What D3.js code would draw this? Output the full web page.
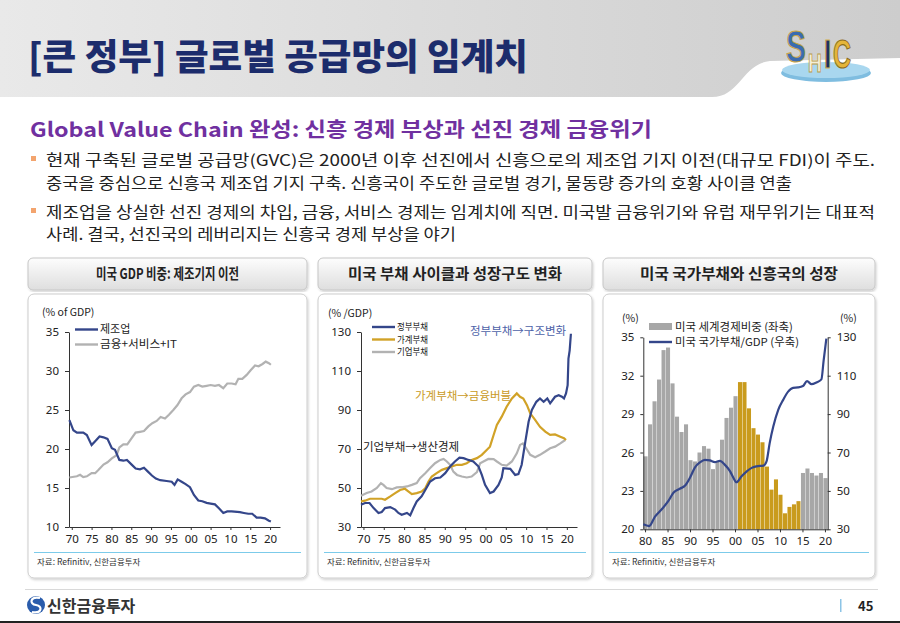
<!DOCTYPE html>
<html><head><meta charset="utf-8">
<script src="https://cdn.jsdelivr.net/npm/d3@7"></script>
<style>
body{margin:0;background:#fff;overflow:hidden;}
svg{display:block;font-family:'Noto Sans CJK KR','Noto Sans',sans-serif;}
</style></head>
<body>
<script>
// ---------- DATA ----------
const titleText = "[큰 정부] 글로벌 공급망의 임계치";
const subtitleText = "Global Value Chain 완성: 신흥 경제 부상과 선진 경제 금융위기";
const bulletLines = [
  "현재 구축된 글로벌 공급망(GVC)은 2000년 이후 선진에서 신흥으로의 제조업 기지 이전(대규모 FDI)이 주도.",
  "중국을 중심으로 신흥국 제조업 기지 구축. 신흥국이 주도한 글로벌 경기, 물동량 증가의 호황 사이클 연출",
  "제조업을 상실한 선진 경제의 차입, 금융, 서비스 경제는 임계치에 직면. 미국발 금융위기와 유럽 재무위기는 대표적",
  "사례. 결국, 선진국의 레버리지는 신흥국 경제 부상을 야기"
];
const panelTitles = ["미국 GDP 비중: 제조기지 이전", "미국 부채 사이클과 성장구도 변화", "미국 국가부채와 신흥국의 성장"];
const sourceText = "자료: Refinitiv, 신한금융투자";
const logoLetters = ["S", "H", "I", "C"];

// Chart 1: US GDP share (% of GDP)
const c1Series = ["제조업", "금융+서비스+IT"];
const manufYears = [1969.4,1970.4,1971.3,1972.9,1973.8,1975.0,1975.9,1977.0,1978.0,1979.0,1980.1,1980.9,1982.0,1983.0,1983.9,1985.1,1986.1,1987.2,1988.2,1989.2,1990.2,1991.2,1992.3,1993.9,1995.2,1995.9,1996.7,1997.7,1998.7,1999.8,2000.8,2001.9,2002.9,2004.0,2005.0,2006.1,2007.1,2008.2,2009.2,2010.3,2012.4,2013.4,2014.5,2015.5,2016.6,2017.6,2018.7,2019.7,2020.2];
const manufValues = [23.7,22.4,22.1,22.1,21.8,20.5,21.0,21.6,21.5,21.3,20.1,19.9,18.6,18.5,18.6,18.0,17.5,17.4,17.6,17.1,16.6,16.2,16.0,15.9,15.8,15.4,16.1,15.8,15.5,15.1,14.1,13.4,13.3,13.1,13.0,12.9,12.4,11.8,12.0,12.0,11.9,11.8,11.7,11.7,11.2,11.2,11.1,10.8,10.7];
const servYears = [1969.4,1971.3,1972.1,1972.9,1973.8,1975.0,1975.9,1976.7,1978.0,1979.0,1980.1,1981.3,1982.0,1983.0,1984.0,1985.1,1986.1,1987.2,1988.2,1989.3,1990.3,1991.4,1992.4,1993.5,1994.5,1995.6,1996.6,1997.7,1998.7,1999.8,2000.8,2001.9,2002.9,2004.0,2005.0,2006.1,2007.1,2008.2,2009.2,2010.3,2011.3,2012.0,2013.0,2014.1,2015.1,2016.2,2017.1,2018.1,2018.9,2019.7,2020.2];
const servValues = [16.35,16.5,16.7,16.4,16.5,16.9,16.9,17.3,18.0,18.3,18.8,19.2,20.2,20.6,20.6,21.4,22.1,22.2,22.3,22.9,23.3,23.6,24.1,23.9,24.4,25.0,25.6,26.5,27.0,27.3,28.0,28.2,28.0,28.1,28.2,28.1,28.2,27.8,28.4,28.4,28.3,29.0,29.0,29.5,30.1,30.7,30.6,30.9,31.2,31.0,30.8];
const c1Ticks = [10,15,20,25,30,35];
const c1YearTicks = [1970,1975,1980,1985,1990,1995,2000,2005,2010,2015,2020];

// Chart 2: US debt (% /GDP)
const c2Series = ["정부부채", "가계부채", "기업부채"];
const govYears = [1969.4,1970.4,1971.5,1972.5,1973.7,1974.5,1975.3,1976.6,1977.8,1978.6,1979.4,1980.7,1981.5,1982.3,1983.1,1984.3,1985.2,1986.4,1987.6,1988.9,1990.1,1991.3,1992.5,1993.6,1994.6,1995.8,1997.0,1998.3,1999.1,1999.9,2001.1,2002.0,2003.2,2004.0,2004.4,2006.1,2007.3,2008.1,2008.9,2009.8,2010.6,2011.4,2012.5,2013.4,2014.3,2015.2,2015.9,2017.1,2018.0,2018.8,2019.3,2019.8,2020.2,2020.4,2020.7,2021.0];
const govValues = [41.4,42.3,42.3,39.7,37.2,37.7,39.7,40.2,38.9,37.2,36.3,37.2,36.0,39.7,43.1,45.7,49.0,53.3,55.0,55.4,57.6,61.0,63.6,65.6,65.3,64.4,63.6,61.0,56.7,51.6,47.4,48.2,51.6,55.4,60.2,59.8,56.7,57.1,61.9,73.8,84.0,90.0,94.2,95.9,94.2,95.9,93.4,96.8,97.6,96.8,95.9,98.5,102.7,116.4,120.6,129.1];
const hhYears = [1969.4,1970.4,1971.6,1973.3,1974.5,1975.3,1976.6,1977.8,1979.0,1980.2,1981.1,1981.9,1983.1,1984.3,1985.2,1986.0,1986.8,1988.0,1989.3,1990.5,1991.7,1993.0,1994.2,1995.4,1996.6,1997.9,1999.1,2000.3,2001.1,2002.0,2002.8,2004.0,2005.2,2006.5,2007.7,2008.5,2009.3,2010.2,2011.0,2012.2,2013.4,2014.7,2015.9,2017.1,2018.4,2019.3,2019.8];
const hhValues = [43.1,43.5,44.5,44.5,44.5,44.0,45.7,47.4,49.0,49.6,48.2,46.9,47.4,48.2,49.9,53.3,55.9,57.6,59.3,60.2,61.0,61.9,61.9,62.7,64.4,65.3,67.0,69.5,71.2,77.2,82.3,86.6,91.7,95.9,98.5,96.8,95.9,92.5,88.3,84.9,81.4,78.9,77.2,77.5,76.3,75.5,74.6];
const corpYears = [1969.4,1970.8,1972.0,1973.3,1974.3,1974.9,1975.7,1977.0,1978.2,1979.4,1980.7,1981.9,1983.1,1983.9,1985.2,1986.4,1987.6,1988.9,1989.7,1990.5,1991.3,1992.1,1993.0,1994.2,1995.4,1996.6,1997.9,1998.7,1999.5,2000.7,2002.0,2002.8,2004.0,2005.2,2006.5,2007.7,2008.5,2009.2,2010.0,2011.0,2012.2,2013.4,2014.7,2015.9,2017.1,2018.4,2019.6];
const corpValues = [46.0,47.4,48.2,50.0,52.5,51.6,50.0,49.4,50.3,50.4,50.8,51.6,52.5,55.0,57.6,60.2,62.7,64.4,64.9,63.6,61.9,58.4,56.7,55.9,55.4,55.9,58.1,62.7,63.6,64.9,64.8,63.6,61.9,61.5,63.6,67.8,72.1,72.9,70.4,67.0,65.8,67.0,68.7,70.4,71.2,72.9,74.6];
const c2Ticks = [30,50,70,90,110,130];
const c2Notes = ["정부부채→구조변화", "가계부채→금융버블", "기업부채→생산경제"];

// Chart 3: US share of world economy (left) & federal debt/GDP (right)
const c3Series = ["미국 세계경제비중 (좌축)", "미국 국가부채/GDP (우축)"];
const shareYears = d3.range(1980, 2021);
const shareValues = [25.7,28.2,30.0,31.7,34.0,34.2,31.4,28.8,27.6,28.2,
  25.4,25.3,26.0,26.5,26.3,24.7,25.3,27.0,28.7,29.5,
  30.4,31.5,31.5,29.45,27.9,27.4,26.8,24.9,23.1,23.9,
  22.7,21.25,21.75,21.95,22.2,24.4,24.75,24.4,24.2,24.4,
  24.0];
const highlightYears = d3.range(2001, 2015);
const debtYears = [1979.5,1980.8,1982.1,1983.6,1985.0,1986.2,1987.6,1988.8,1989.9,1991.0,1992.1,1993.2,1994.3,1995.4,1996.5,1997.6,1998.8,1999.5,2000.2,2001.35,2002.5,2003.6,2004.7,2006.2,2006.9,2007.6,2008.4,2009.5,2010.6,2011.7,2012.8,2013.9,2015.0,2015.9,2016.9,2018.0,2019.1,2019.6,2020.2];
const debtValues = [32.6,31.7,36.6,40.4,44.5,49.0,51.1,52.8,57.0,62.3,64.9,66.2,65.9,65.0,65.6,63.7,60.2,57.0,54.5,57.6,60.2,62.0,62.8,63.2,65.4,74.9,83.5,92.2,97.4,101.7,103.7,103.9,104.6,107.2,105.6,106.5,108.1,118.0,129.3];
const c3LeftTicks = [20,23,26,29,32,35];
const c3RightTicks = [30,50,70,90,110,130];
const c3YearTicks = [1980,1985,1990,1995,2000,2005,2010,2015,2020];

// ---------- DRAW ----------
const NAVY = "#34468a", GRAYL = "#b2b2b2", GOLD = "#d1a227";
const yy = d => String(d % 100).padStart(2, "0");
const svg = d3.select("body").append("svg").attr("width", 900).attr("height", 623);
const defs = svg.append("defs");
const hg = defs.append("linearGradient").attr("id", "hg").attr("x1", 0).attr("x2", 1).attr("y1", 0).attr("y2", 0);
hg.append("stop").attr("offset", 0).attr("stop-color", "#e9e9e9");
hg.append("stop").attr("offset", 1).attr("stop-color", "#cdcdcd");
const bg = defs.append("linearGradient").attr("id", "bg").attr("x1", 0).attr("x2", 0).attr("y1", 0).attr("y2", 1);
bg.append("stop").attr("offset", 0).attr("stop-color", "#fdfdfd");
bg.append("stop").attr("offset", 1).attr("stop-color", "#dedede");
const sh = defs.append("filter").attr("id", "sh").attr("x", -0.05).attr("y", -0.05).attr("width", 1.1).attr("height", 1.1);
sh.append("feDropShadow").attr("dx", 1).attr("dy", 1.5).attr("stdDeviation", 1.2).attr("flood-color", "#000").attr("flood-opacity", 0.18);

// header
svg.append("rect").attr("x", 0).attr("y", 0).attr("width", 900).attr("height", 97).attr("fill", "url(#hg)");
svg.append("path").attr("d", "M712,97 C740,97 742,64 770,61 L900,58 L900,97 Z").attr("fill", "#fff");
svg.append("text").attr("x", 28).attr("y", 70).attr("font-size", 36).attr("font-weight", 900)
  .attr("fill", "#1c2c6c").attr("textLength", 500).attr("lengthAdjust", "spacingAndGlyphs").text(titleText);
// SHIC logo: letters side by side, stretched vertically
svg.append("ellipse").attr("cx", 826).attr("cy", 73).attr("rx", 45).attr("ry", 9).attr("fill", "#7fbde0");
svg.append("ellipse").attr("cx", 826).attr("cy", 70).attr("rx", 44).attr("ry", 8).attr("fill", "#a9d7ef");
const logoStyle = [
  {x: 786, y: 62, fs: 30, k: 1.5, fill: "#3b6cb0", stroke: "#c9a545"},
  {x: 808, y: 72, fs: 19, k: 1.4, fill: "#f4efda", stroke: "#b79a4a"},
  {x: 824, y: 68, fs: 27, k: 1.5, fill: "#1f3360", stroke: "#d4b050"},
  {x: 833, y: 68, fs: 25, k: 1.6, fill: "#e5b53a", stroke: "#8d6d1c"}
];
logoLetters.forEach((l, i) => {
  const s = logoStyle[i];
  svg.append("text").attr("transform", `translate(${s.x},${s.y}) scale(1,${s.k})`)
    .attr("font-size", s.fs).attr("font-weight", 700)
    .attr("font-family", "'Liberation Sans','DejaVu Sans',sans-serif")
    .attr("fill", s.fill).attr("stroke", s.stroke).attr("stroke-width", 0.7).text(l);
});

// subtitle + bullets
svg.append("text").attr("x", 30).attr("y", 137).attr("font-size", 20).attr("font-weight", 700)
  .attr("fill", "#7030a0").attr("textLength", 622).attr("lengthAdjust", "spacingAndGlyphs").text(subtitleText);
const lineY = [166, 189, 218, 240];
const lineW = [829, 746, 829, 410];
bulletLines.forEach((t, i) => {
  svg.append("text").attr("x", 46).attr("y", lineY[i]).attr("font-size", 15.5).attr("fill", "#222")
    .attr("textLength", lineW[i]).attr("lengthAdjust", "spacingAndGlyphs").text(t);
});
[156, 208].forEach(y => svg.append("rect").attr("x", 31).attr("y", y).attr("width", 5).attr("height", 5).attr("fill", "#f3a46e"));

// panels
const panels = [{x: 28, w: 279}, {x: 318, w: 274}, {x: 603, w: 272}];
const titleW = [143, 214, 198];
panels.forEach((p, i) => {
  svg.append("rect").attr("x", p.x).attr("y", 258).attr("width", p.w).attr("height", 32).attr("rx", 5)
    .attr("fill", "url(#bg)").attr("stroke", "#c6c6c6").attr("filter", "url(#sh)");
  svg.append("text").attr("x", p.x + p.w / 2).attr("y", 279).attr("text-anchor", "middle")
    .attr("font-size", 15).attr("font-weight", 700).attr("fill", "#222")
    .attr("textLength", titleW[i]).attr("lengthAdjust", "spacingAndGlyphs").text(panelTitles[i]);
  svg.append("rect").attr("x", p.x).attr("y", 294).attr("width", p.w).attr("height", 284).attr("rx", 6)
    .attr("fill", "#fff").attr("stroke", "#cdcdcd").attr("filter", "url(#sh)");
  svg.append("line").attr("x1", p.x + 6).attr("x2", p.x + p.w - 6).attr("y1", 552.5).attr("y2", 552.5)
    .attr("stroke", "#7ccbea").attr("stroke-width", 1);
  svg.append("text").attr("x", p.x + 9).attr("y", 565).attr("font-size", 8.5).attr("fill", "#333").text(sourceText);
});

function styleAxis(g, fs) {
  g.selectAll("text").attr("font-size", fs).attr("fill", "#222").attr("font-family", "'Noto Sans','Noto Sans CJK KR',sans-serif");
  g.selectAll("path,line").attr("stroke", "#333");
}
function legendLine(x, y, color, label, fs, tl) {
  svg.append("line").attr("x1", x).attr("x2", x + 23).attr("y1", y).attr("y2", y).attr("stroke", color).attr("stroke-width", 2.4);
  const t = svg.append("text").attr("x", x + 25).attr("y", y + fs * 0.36).attr("font-size", fs).attr("fill", "#222").text(label);
  if (tl) t.attr("textLength", tl).attr("lengthAdjust", "spacingAndGlyphs");
}

// ---- Chart 1
const x1 = d3.scaleLinear().domain([1969.3, 2022.5]).range([69, 280]);
const y1 = d3.scaleLinear().domain([10, 35]).range([527, 332]);
svg.append("g").attr("transform", "translate(69,0)")
  .call(d3.axisLeft(y1).tickValues(c1Ticks).tickSize(4).tickPadding(6).tickSizeOuter(0)).call(g => styleAxis(g, 11.5));
svg.append("g").attr("transform", "translate(0,527)")
  .call(d3.axisBottom(x1).tickValues(c1YearTicks).tickFormat(yy).tickSize(3).tickPadding(5).tickSizeOuter(0)).call(g => styleAxis(g, 11.5));
const line1 = d3.line().x(d => x1(d[0])).y(d => y1(d[1]));
svg.append("path").datum(d3.zip(servYears, servValues)).attr("d", line1).attr("fill", "none").attr("stroke", GRAYL).attr("stroke-width", 2.2);
svg.append("path").datum(d3.zip(manufYears, manufValues)).attr("d", line1).attr("fill", "none").attr("stroke", NAVY).attr("stroke-width", 2.2);
svg.append("text").attr("x", 42).attr("y", 316).attr("font-size", 10.5).attr("fill", "#222").text("(% of GDP)");
legendLine(75, 329.5, NAVY, c1Series[0], 11);
legendLine(75, 344.5, GRAYL, c1Series[1], 11, 77);

// ---- Chart 2
const x2 = d3.scaleLinear().domain([1969.4, 2022.5]).range([361, 577]);
const y2 = d3.scaleLinear().domain([30, 130]).range([527, 332]);
svg.append("g").attr("transform", "translate(361,0)")
  .call(d3.axisLeft(y2).tickValues(c2Ticks).tickSize(4).tickPadding(6).tickSizeOuter(0)).call(g => styleAxis(g, 11.5));
svg.append("g").attr("transform", "translate(0,527)")
  .call(d3.axisBottom(x2).tickValues(c1YearTicks).tickFormat(yy).tickSize(3).tickPadding(5).tickSizeOuter(0)).call(g => styleAxis(g, 11.5));
const line2 = d3.line().x(d => x2(d[0])).y(d => y2(d[1]));
svg.append("path").datum(d3.zip(corpYears, corpValues)).attr("d", line2).attr("fill", "none").attr("stroke", GRAYL).attr("stroke-width", 2.2);
svg.append("path").datum(d3.zip(hhYears, hhValues)).attr("d", line2).attr("fill", "none").attr("stroke", GOLD).attr("stroke-width", 2.2);
svg.append("path").datum(d3.zip(govYears, govValues)).attr("d", line2).attr("fill", "none").attr("stroke", NAVY).attr("stroke-width", 2.2);
svg.append("text").attr("x", 328).attr("y", 317).attr("font-size", 10.5).attr("fill", "#222").text("(% /GDP)");
legendLine(372, 327, NAVY, c2Series[0], 9.5, 31);
legendLine(372, 339.5, GOLD, c2Series[1], 9.5, 31);
legendLine(372, 352, GRAYL, c2Series[2], 9.5, 31);
svg.append("text").attr("x", 470).attr("y", 334.5).attr("font-size", 11.5).attr("fill", "#4d62a8").text(c2Notes[0]);
svg.append("text").attr("x", 415).attr("y", 399.5).attr("font-size", 11.5).attr("fill", "#c99a1e").text(c2Notes[1]);
svg.append("text").attr("x", 363).attr("y", 451).attr("font-size", 11.5).attr("fill", "#222").text(c2Notes[2]);

// ---- Chart 3
const xb = d3.scaleBand().domain(shareYears).range([643.3, 827.7]).paddingInner(0.1).paddingOuter(0.05);
const yL = d3.scaleLinear().domain([20, 35]).range([529.3, 337.3]);
const yR = d3.scaleLinear().domain([30, 130]).range([529.3, 337.3]);
const xl = d3.scaleLinear().domain([1980, 2020]).range([xb(1980) + xb.bandwidth() / 2, xb(2020) + xb.bandwidth() / 2]);
svg.append("g").selectAll("rect").data(d3.zip(shareYears, shareValues)).join("rect")
  .attr("x", d => xb(d[0])).attr("width", xb.bandwidth())
  .attr("y", d => yL(d[1])).attr("height", d => yL(20) - yL(d[1]))
  .attr("fill", d => highlightYears.includes(d[0]) ? "#c99b1d" : "#a7a7a7");
svg.append("g").attr("transform", "translate(643.3,0)")
  .call(d3.axisLeft(yL).tickValues(c3LeftTicks).tickSize(3).tickPadding(6).tickSizeOuter(0)).call(g => styleAxis(g, 11.5));
svg.append("g").attr("transform", "translate(827.7,0)")
  .call(d3.axisRight(yR).tickValues(c3RightTicks).tickSize(3).tickPadding(6).tickSizeOuter(0)).call(g => styleAxis(g, 11.5));
svg.append("g").attr("transform", "translate(0,529.3)")
  .call(d3.axisBottom(xb).tickValues(c3YearTicks).tickFormat(yy).tickSize(3).tickPadding(5).tickSizeOuter(0)).call(g => styleAxis(g, 11.5));
const line3 = d3.line().x(d => xl(d[0])).y(d => yR(d[1])).curve(d3.curveMonotoneX);
svg.append("path").datum(d3.zip(debtYears, debtValues)).attr("d", line3).attr("fill", "none").attr("stroke", NAVY).attr("stroke-width", 2.2);
svg.append("text").attr("x", 622).attr("y", 322).attr("font-size", 10.5).attr("fill", "#222").text("(%)");
svg.append("text").attr("x", 840).attr("y", 322).attr("font-size", 10.5).attr("fill", "#222").text("(%)");
svg.append("rect").attr("x", 649).attr("y", 323).attr("width", 23).attr("height", 7).attr("fill", "#a7a7a7");
svg.append("text").attr("x", 675).attr("y", 330.5).attr("font-size", 11).attr("fill", "#222")
  .attr("textLength", 118).attr("lengthAdjust", "spacingAndGlyphs").text(c3Series[0]);
svg.append("line").attr("x1", 649).attr("x2", 672).attr("y1", 342).attr("y2", 342).attr("stroke", NAVY).attr("stroke-width", 2.4);
svg.append("text").attr("x", 675).attr("y", 346).attr("font-size", 11).attr("fill", "#222")
  .attr("textLength", 124).attr("lengthAdjust", "spacingAndGlyphs").text(c3Series[1]);

// footer
svg.append("line").attr("x1", 25).attr("x2", 878).attr("y1", 589.5).attr("y2", 589.5).attr("stroke", "#d9d9d9");
svg.append("circle").attr("cx", 36).attr("cy", 605).attr("r", 9).attr("fill", "#2a5cab");
svg.append("path").attr("d", "M40,598 C30,596 29,604 36,605 C43,606 42,614 32,612").attr("fill", "none").attr("stroke", "#fff").attr("stroke-width", 2.2);
svg.append("text").attr("x", 47).attr("y", 612).attr("font-size", 16).attr("font-weight", 700).attr("fill", "#333").text("신한금융투자");
svg.append("rect").attr("x", 840).attr("y", 599).attr("width", 1.5).attr("height", 13).attr("fill", "#8cc4e6");
svg.append("text").attr("x", 858).attr("y", 611).attr("font-size", 13).attr("font-weight", 700).attr("fill", "#222").text("45");
svg.append("rect").attr("x", 0).attr("y", 621).attr("width", 900).attr("height", 2).attr("fill", "#222");
</script>
</body></html>
